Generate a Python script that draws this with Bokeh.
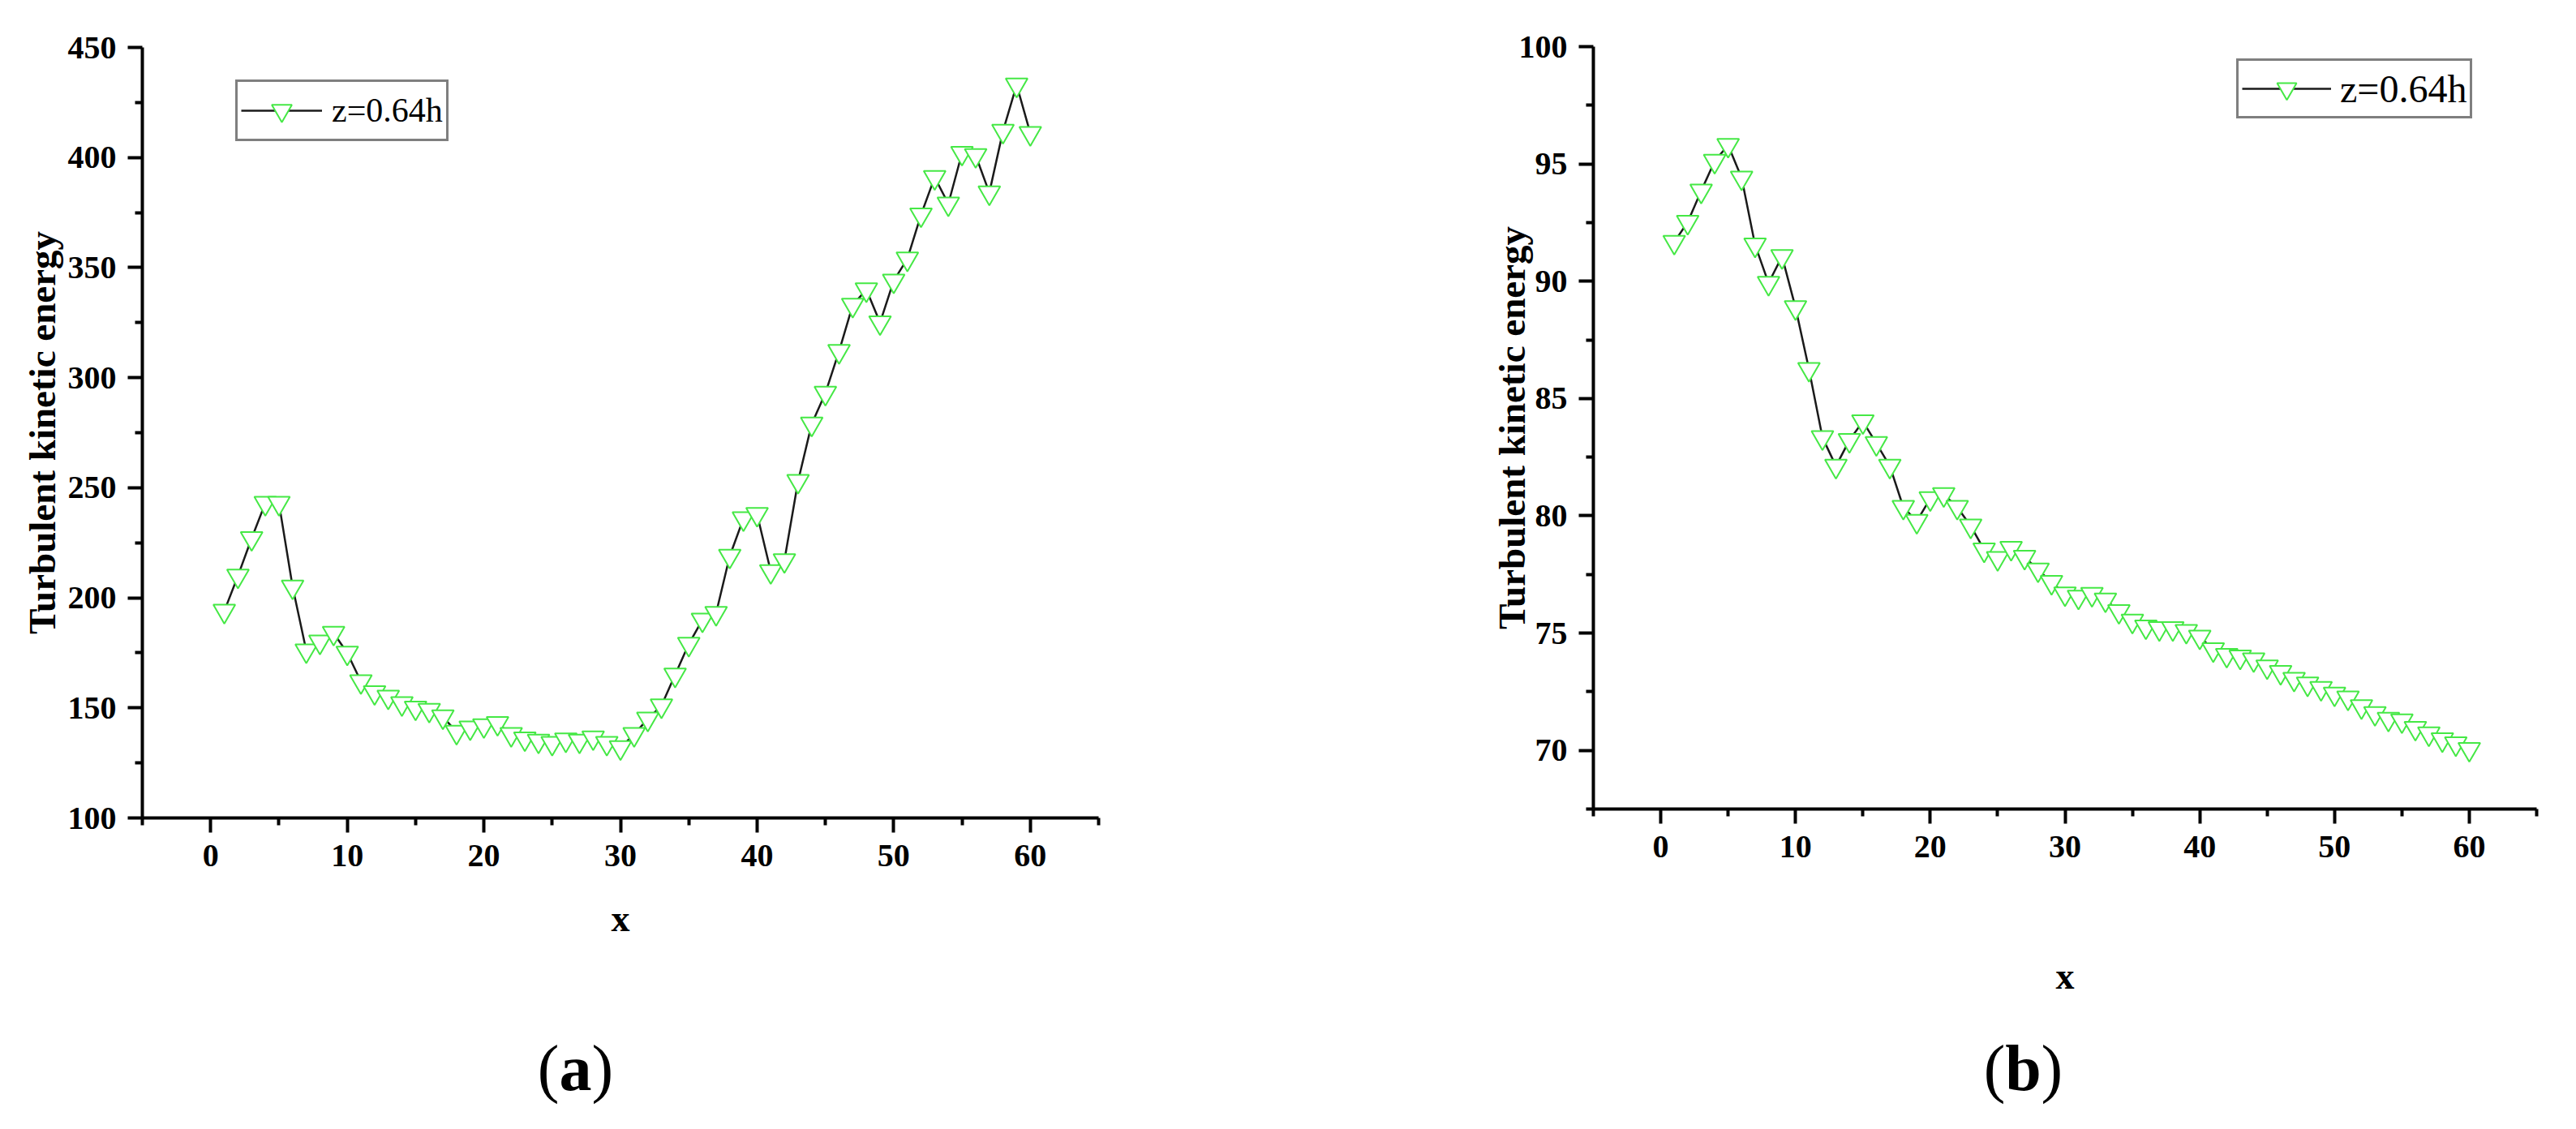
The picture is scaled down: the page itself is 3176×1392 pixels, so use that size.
from bokeh.plotting import figure
from bokeh.layouts import row, column
from bokeh.models import Range1d, FixedTicker, Legend
from bokeh.core.properties import value
from bokeh.embed import file_html
from bokeh.resources import INLINE

# ---------------- data ----------------
x_vals = list(range(1, 61))

tke_a = [194, 210, 227, 243, 243, 205, 176, 180, 184, 175,
         162, 157, 155, 152, 150, 149, 146, 139, 141, 142,
         143, 138, 136, 135, 134, 135.5, 135, 136.5, 134, 132,
         138, 145, 151, 165, 179, 190, 193, 219, 236, 238,
         212, 217, 253, 279, 293, 312, 333, 340, 325, 344,
         354, 374, 391, 379, 402, 401, 384, 412, 433, 411]

tke_b = [91.67, 92.52, 93.85, 95.12, 95.80, 94.41, 91.55, 89.92, 91.06, 88.88,
         86.25, 83.34, 82.12, 83.22, 84.02, 83.09, 82.12, 80.37, 79.77, 80.74,
         80.91, 80.37, 79.57, 78.55, 78.19, 78.62, 78.24, 77.70, 77.17, 76.68,
         76.54, 76.66, 76.42, 75.93, 75.52, 75.27, 75.20, 75.20, 75.08, 74.84,
         74.30, 74.06, 73.99, 73.87, 73.57, 73.33, 73.04, 72.84, 72.65, 72.41,
         72.24, 71.87, 71.58, 71.34, 71.27, 70.95, 70.71, 70.46, 70.29, 70.05]

x_ticks = [0, 10, 20, 30, 40, 50, 60]
x_minor = [-5, 5, 15, 25, 35, 45, 55, 65]
ya_ticks = [100, 150, 200, 250, 300, 350, 400, 450]
ya_minor = [125, 175, 225, 275, 325, 375, 425]
yb_ticks = [70, 75, 80, 85, 90, 95, 100]
yb_minor = [67.5, 72.5, 77.5, 82.5, 87.5, 92.5, 97.5]

series_label = "z=0.64h"
y_title = "Turbulent kinetic energy"
x_title = "x"
captions = ["a", "b"]

SERIF = "Liberation Serif"
GREEN = "#45e845"
LINE = "#1a1a1a"


def style_axes(p, yticks, yminor, ylab_standoff, xlab_standoff):
    p.xaxis.ticker = FixedTicker(ticks=x_ticks, minor_ticks=x_minor)
    p.yaxis.ticker = FixedTicker(ticks=yticks, minor_ticks=yminor)
    for ax in (p.xaxis[0], p.yaxis[0]):
        ax.axis_line_width = 4
        ax.axis_line_color = "black"
        ax.major_tick_line_width = 4
        ax.minor_tick_line_width = 4
        ax.major_tick_line_color = "black"
        ax.minor_tick_line_color = "black"
        ax.major_tick_in = 0
        ax.major_tick_out = 18
        ax.minor_tick_in = 0
        ax.minor_tick_out = 9
        ax.major_label_text_font = SERIF
        ax.major_label_text_font_style = "bold"
        ax.major_label_text_font_size = "40px"
        ax.major_label_text_color = "black"
        ax.axis_label_text_font = SERIF
        ax.axis_label_text_font_style = "bold"
        ax.axis_label_text_color = "black"
    p.xaxis.major_label_standoff = 15
    p.yaxis.major_label_standoff = 14
    p.xaxis.axis_label = x_title
    p.yaxis.axis_label = y_title
    p.xaxis.axis_label_text_font_size = "46px"
    p.yaxis.axis_label_text_font_size = "47px"
    p.yaxis.axis_label_standoff = ylab_standoff
    p.xaxis.axis_label_standoff = xlab_standoff
    p.xgrid.visible = False
    p.ygrid.visible = False
    p.outline_line_color = None
    p.background_fill_color = "white"
    p.border_fill_color = "white"


def add_series(p, ys, loc, font_px, glyph_w, glyph_h, pad, standoff):
    r1 = p.line(x_vals, ys, line_color=LINE, line_width=2.5)
    r2 = p.scatter(x_vals, ys, marker="inverted_triangle", size=27,
                   line_color=GREEN, line_width=2, fill_color="white")
    legend = Legend(items=[(series_label, [r1, r2])], location=loc)
    legend.label_text_font = SERIF
    legend.label_text_font_size = font_px
    legend.label_text_color = "black"
    legend.glyph_width = glyph_w
    legend.glyph_height = glyph_h
    legend.label_standoff = standoff
    legend.padding = pad
    legend.spacing = 0
    legend.margin = 0
    legend.border_line_color = "black"
    legend.border_line_width = 3
    legend.background_fill_color = "white"
    legend.background_fill_alpha = 1
    p.add_layout(legend, "center")


# ---------------- figure (a) ----------------
pa = figure(width=1588, height=1260, output_backend="svg", toolbar_location=None,
            x_range=Range1d(-5, 65), y_range=Range1d(100, 450),
            min_border_left=175, min_border_right=234,
            min_border_top=58, min_border_bottom=252)
style_axes(pa, ya_ticks, ya_minor, ylab_standoff=3, xlab_standoff=36)
add_series(pa, tke_a, (115, 834), "42px", 100, 62, 4, 12)

# ---------------- figure (b) ----------------
pb = figure(width=1588, height=1249, output_backend="svg", toolbar_location=None,
            x_range=Range1d(-5, 65), y_range=Range1d(67.5, 100),
            min_border_left=376, min_border_right=49,
            min_border_top=57, min_border_bottom=252)
style_axes(pb, yb_ticks, yb_minor, ylab_standoff=-20, xlab_standoff=118)
add_series(pb, tke_b, (793, 851), "48px", 110, 60, 4, 11)

# ---------------- captions (a), (b) ----------------
cap = figure(width=3176, height=130, output_backend="svg", toolbar_location=None,
             x_range=Range1d(0, 3176), y_range=Range1d(130, 0),
             min_border=0)
cap.axis.visible = False
cap.xgrid.visible = False
cap.ygrid.visible = False
cap.outline_line_color = None
cap.background_fill_color = "white"
cap.border_fill_color = "white"
cap_x = [709, 2494]
cap_half = [20, 22]
cap_base = 56
for cx, half, letter in zip(cap_x, cap_half, captions):
    common = dict(text_font=value(SERIF), text_font_size="80px",
                  text_color="black", text_baseline="alphabetic")
    cap.text(x=[cx - half], y=[cap_base], text=["("], text_align="right", **common)
    cap.text(x=[cx], y=[cap_base], text=[letter], text_align="center",
             text_font_style="bold", **common)
    cap.text(x=[cx + half], y=[cap_base], text=[")"], text_align="left", **common)

layout = column(row(column(pa), column(pb)), cap)
open("out.html", "w").write(file_html(layout, INLINE))
